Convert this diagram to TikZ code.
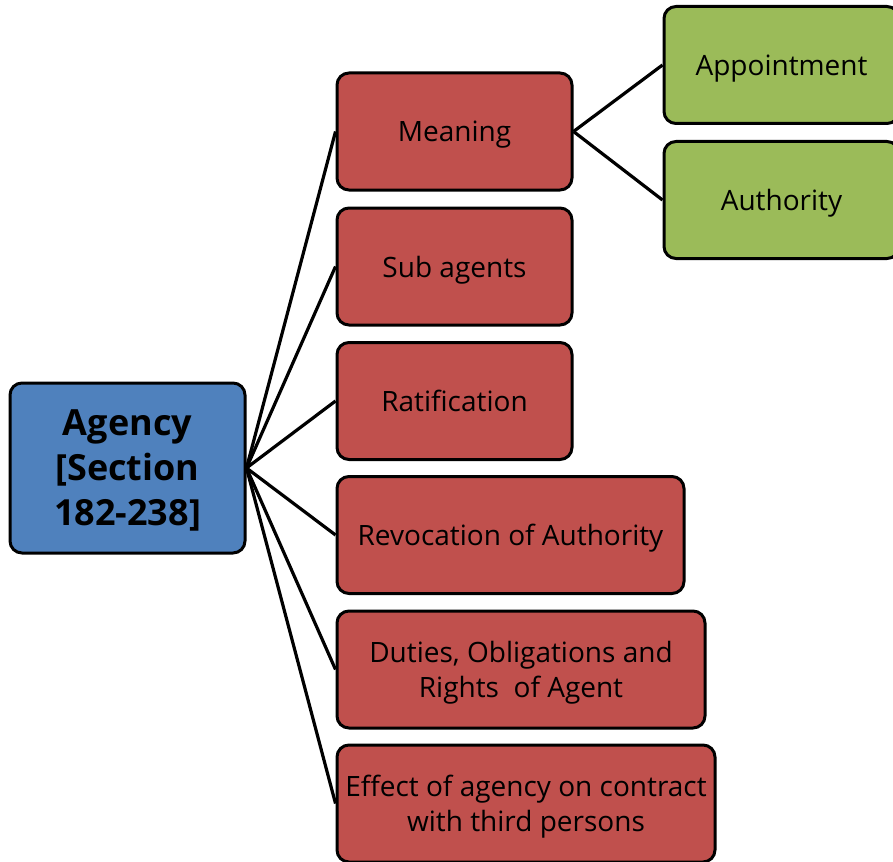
\documentclass[tikz,border=0pt]{standalone}
\usepackage{fontspec}
\setmainfont{Open Sans}
\usetikzlibrary{positioning}

\definecolor{agencyblue}{HTML}{4F81BD}
\definecolor{topicred}{HTML}{C0504D}
\definecolor{subgreen}{HTML}{9BBB59}

\tikzset{
  box/.style={draw=black, line width=3pt, rounded corners=12pt, align=center,
    minimum height=117pt, inner sep=4pt, text depth=0pt,
    font=\fontsize{28}{35}\selectfont},
  topic/.style={box, fill=topicred, minimum width=235pt},
  leaf/.style={box, fill=subgreen, minimum width=235pt},
  link/.style={black, line width=3.2pt}
}

\begin{document}
\begin{tikzpicture}[x=1pt, y=-1pt]
  % Frame of the picture (pixel units, y downwards)
  \useasboundingbox (0,0) rectangle (893,861);
  \clip (0,0) rectangle (893,861);

  % Root node
  \node[box, fill=agencyblue, minimum width=235pt, minimum height=170pt,
        font=\fontsize{36}{45}\selectfont\bfseries] (agency) at (127.5,468)
        {Agency\\{}[Section\\182-238]};

  % Topic nodes
  \node[topic] (meaning) at (454.5,131.5) {Meaning};
  \node[topic] (subagents) at (454.5,266.5) {Sub agents};
  \node[topic] (ratification) at (454.5,401) {Ratification};
  \node[topic, minimum width=347pt] (revocation) at (510.5,535) {Revocation of Authority};
  \node[topic, minimum width=368pt] (duties) at (521,669.5) {Duties, Obligations and\\Rights~~of Agent};
  \node[topic, minimum width=378pt] (effect) at (526,803.5) {Effect of agency on contract\\with third persons};

  % Sub-topics of Meaning
  \node[leaf] (appointment) at (781.5,65) {Appointment};
  \node[leaf] (authority) at (781.5,200) {Authority};

  % Connectors
  \foreach \t in {meaning, subagents, ratification, revocation, duties, effect}
    \draw[link] (agency.east) -- (\t.west);
  \draw[link] (meaning.east) -- (appointment.west);
  \draw[link] (meaning.east) -- (authority.west);

\end{tikzpicture}
\end{document}
